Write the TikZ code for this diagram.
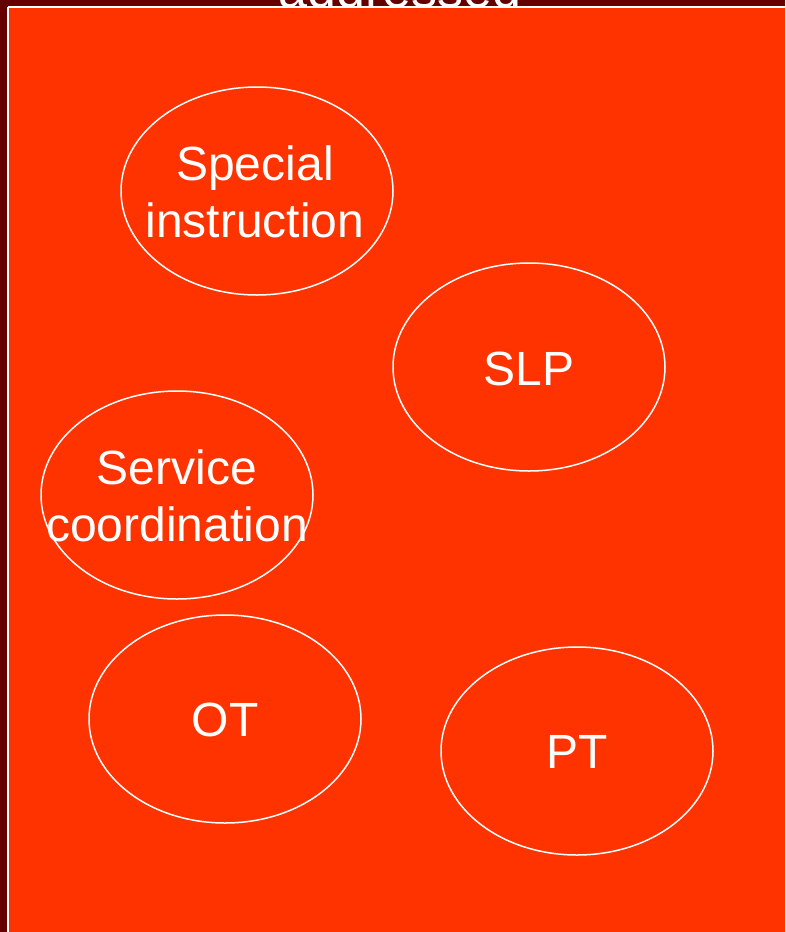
\documentclass[tikz,border=0pt]{standalone}
\usepackage{fontspec}
\setmainfont{Liberation Sans}
\usetikzlibrary{shapes.geometric}
\definecolor{darkbg}{HTML}{660000}
\definecolor{orangebg}{HTML}{FF3300}
\tikzset{
  bubble/.style={draw=white, line width=1.5pt, ellipse, minimum width=272pt, minimum height=208pt, inner sep=0pt},
  lbl/.style={text=white, font=\fontsize{48}{57.6}\selectfont, align=center, inner sep=0pt}
}
\begin{document}
\begin{tikzpicture}[x=1pt,y=-1pt]
\useasboundingbox (0,0) rectangle (785,932);
\fill[darkbg] (0,0) rectangle (785,932);
\begin{scope}
\clip (0,0) rectangle (785,932);
\node[text=white, font=\fontsize{52}{62}\selectfont, anchor=base, inner sep=0pt] (title) at (400,7) {addressed};
\fill[orangebg] (8,7) rectangle (800,950);
\draw[white, line width=2pt] (8,7) -- (800,7);
\draw[white, line width=2pt] (8,7) -- (8,950);
\end{scope}
\node[bubble] (si) at (257,191) {};
\node[lbl] at (255,192) {Special\\instruction};
\node[bubble] (slp) at (529,367) {};
\node[lbl] at (529,369) {SLP};
\node[bubble] (sc) at (177,495) {};
\node[lbl] at (177,496) {Service\\coordination};
\node[bubble] (ot) at (225,719) {};
\node[lbl] at (225,720) {OT};
\node[bubble] (pt) at (577,751) {};
\node[lbl] at (577,752) {PT};
\end{tikzpicture}
\end{document}
